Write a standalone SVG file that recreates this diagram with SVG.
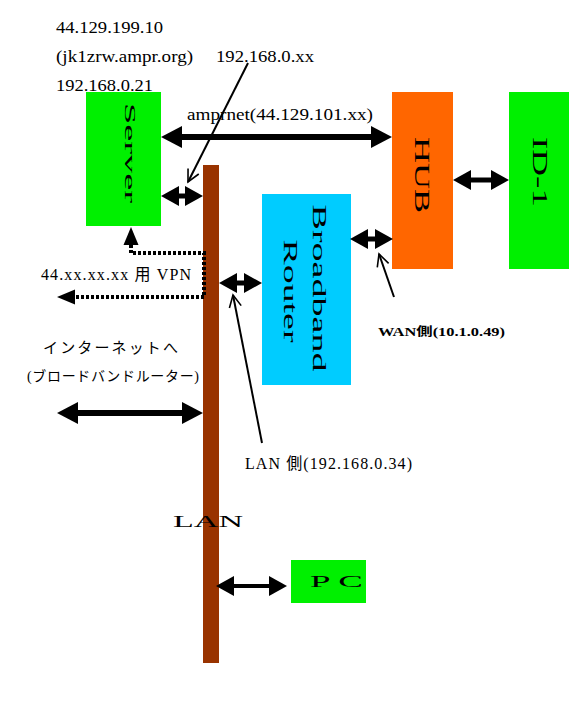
<svg xmlns="http://www.w3.org/2000/svg" width="586" height="717" viewBox="0 0 586 717">
<defs>
<style>
.t{font-family:"Liberation Serif","Noto Sans CJK JP",serif;fill:#000}
.j{font-family:"Liberation Serif","Noto Sans CJK JP",serif;fill:#000}
.c{stroke:#000;fill:none}
</style>
<marker id="ahL" markerUnits="userSpaceOnUse" markerWidth="22" markerHeight="24" refX="0" refY="11" orient="auto-start-reverse" overflow="visible"><path d="M0,0 L21,11 L0,22 z" fill="#000"/></marker>
<marker id="ahM" markerUnits="userSpaceOnUse" markerWidth="19" markerHeight="21" refX="0" refY="10" orient="auto-start-reverse" overflow="visible"><path d="M0,0 L18,10 L0,20 z" fill="#000"/></marker>
<marker id="ahV" markerUnits="userSpaceOnUse" markerWidth="19" markerHeight="16" refX="0" refY="7.5" orient="auto-start-reverse" overflow="visible"><path d="M0,0 L18,7.5 L0,15 z" fill="#000"/></marker>
<marker id="open" markerUnits="userSpaceOnUse" markerWidth="14" markerHeight="14" refX="12" refY="6" orient="auto" overflow="visible"><path d="M0,0 L12,6 L0,12" fill="none" stroke="#000" stroke-width="1.6"/></marker>
</defs>
<rect width="586" height="717" fill="#fff"/>

<g id="lan-bar"><rect x="203" y="165" width="16" height="498" fill="#993300"/></g>

<g id="labels">
<text class="t" x="56" y="33" font-size="16" textLength="107" lengthAdjust="spacingAndGlyphs">44.129.199.10</text>
<text class="t" x="56" y="62" font-size="16" textLength="137" lengthAdjust="spacingAndGlyphs">(jk1zrw.ampr.org)</text>
<text class="t" x="216" y="62" font-size="16" textLength="98" lengthAdjust="spacingAndGlyphs">192.168.0.xx</text>
<text class="t" x="56" y="91" font-size="16" textLength="97" lengthAdjust="spacingAndGlyphs">192.168.0.21</text>
<text class="t" x="187" y="120" font-size="16" textLength="186" lengthAdjust="spacingAndGlyphs">amprnet(44.129.101.xx)</text>
<text class="j" x="41" y="280" font-size="16" textLength="150">44.xx.xx.xx 用 VPN</text>
<text class="j" x="43" y="353" font-size="15" textLength="135">インターネットへ</text>
<text class="j" x="27" y="381" font-size="14" textLength="172">(ブロードバンドルーター)</text>
<text class="j" x="378" y="336" font-size="12" font-weight="bold" textLength="127" lengthAdjust="spacingAndGlyphs">WAN側(10.1.0.49)</text>
<text class="j" x="245" y="469" font-size="16" textLength="167">LAN 側(192.168.0.34)</text>
<text class="t" x="173" y="527" font-size="16" textLength="70" lengthAdjust="spacingAndGlyphs">LAN</text>
</g>

<g id="server">
<rect x="86" y="92" width="75" height="134" fill="#00f000"/>
<text class="t" transform="translate(130,153) rotate(90)" x="0" y="5" font-size="15" text-anchor="middle" textLength="100" lengthAdjust="spacingAndGlyphs">Server</text>
</g>
<g id="hub">
<rect x="392" y="92" width="61" height="177" fill="#ff6600"/>
<text class="t" transform="translate(422,175) rotate(90)" x="0" y="7" font-size="21" text-anchor="middle" textLength="76" lengthAdjust="spacingAndGlyphs">HUB</text>
</g>
<g id="id1">
<rect x="509" y="92" width="60" height="177" fill="#00f000"/>
<text class="t" transform="translate(540,172) rotate(90)" x="0" y="7" font-size="21" text-anchor="middle" textLength="70" lengthAdjust="spacingAndGlyphs">ID-1</text>
</g>
<g id="router">
<rect x="262" y="194" width="89" height="191" fill="#00ccff"/>
<text class="t" transform="translate(319,288) rotate(90)" x="0" y="6" font-size="18" text-anchor="middle" textLength="167" lengthAdjust="spacingAndGlyphs">Broadband</text>
<text class="t" transform="translate(290,291) rotate(90)" x="0" y="6" font-size="18" text-anchor="middle" textLength="103" lengthAdjust="spacingAndGlyphs">Router</text>
</g>
<g id="pc">
<rect x="291" y="560" width="75" height="43" fill="#00f000"/>
<text class="t" x="310" y="587" font-size="17" textLength="53" lengthAdjust="spacingAndGlyphs">P C</text>
</g>

<g id="connectors">
<line class="c" x1="182" y1="137" x2="371" y2="137" stroke-width="6" marker-start="url(#ahL)" marker-end="url(#ahL)"/>
<line class="c" x1="179" y1="196" x2="185" y2="196" stroke-width="5" marker-start="url(#ahM)" marker-end="url(#ahM)"/>
<line class="c" x1="471" y1="180" x2="491" y2="180" stroke-width="5" marker-start="url(#ahM)" marker-end="url(#ahM)"/>
<line class="c" x1="368" y1="239" x2="375" y2="239" stroke-width="5" marker-start="url(#ahM)" marker-end="url(#ahM)"/>
<line class="c" x1="237" y1="283" x2="244" y2="283" stroke-width="5" marker-start="url(#ahM)" marker-end="url(#ahM)"/>
<line class="c" x1="78" y1="413" x2="182" y2="413" stroke-width="6" marker-start="url(#ahL)" marker-end="url(#ahL)"/>
<line class="c" x1="234" y1="586" x2="269" y2="586" stroke-width="4" marker-start="url(#ahM)" marker-end="url(#ahM)"/>
<path class="c" d="M131,245 V253 H204 V297 H75" stroke-width="4" stroke-dasharray="3,2" marker-start="url(#ahV)" marker-end="url(#ahV)"/>
<line class="c" x1="248" y1="63" x2="188" y2="182" stroke-width="2" marker-end="url(#open)"/>
<line class="c" x1="262" y1="443" x2="233" y2="295" stroke-width="2" marker-end="url(#open)"/>
<line class="c" x1="394" y1="297" x2="379" y2="254" stroke-width="2" marker-end="url(#open)"/>
</g>
</svg>
